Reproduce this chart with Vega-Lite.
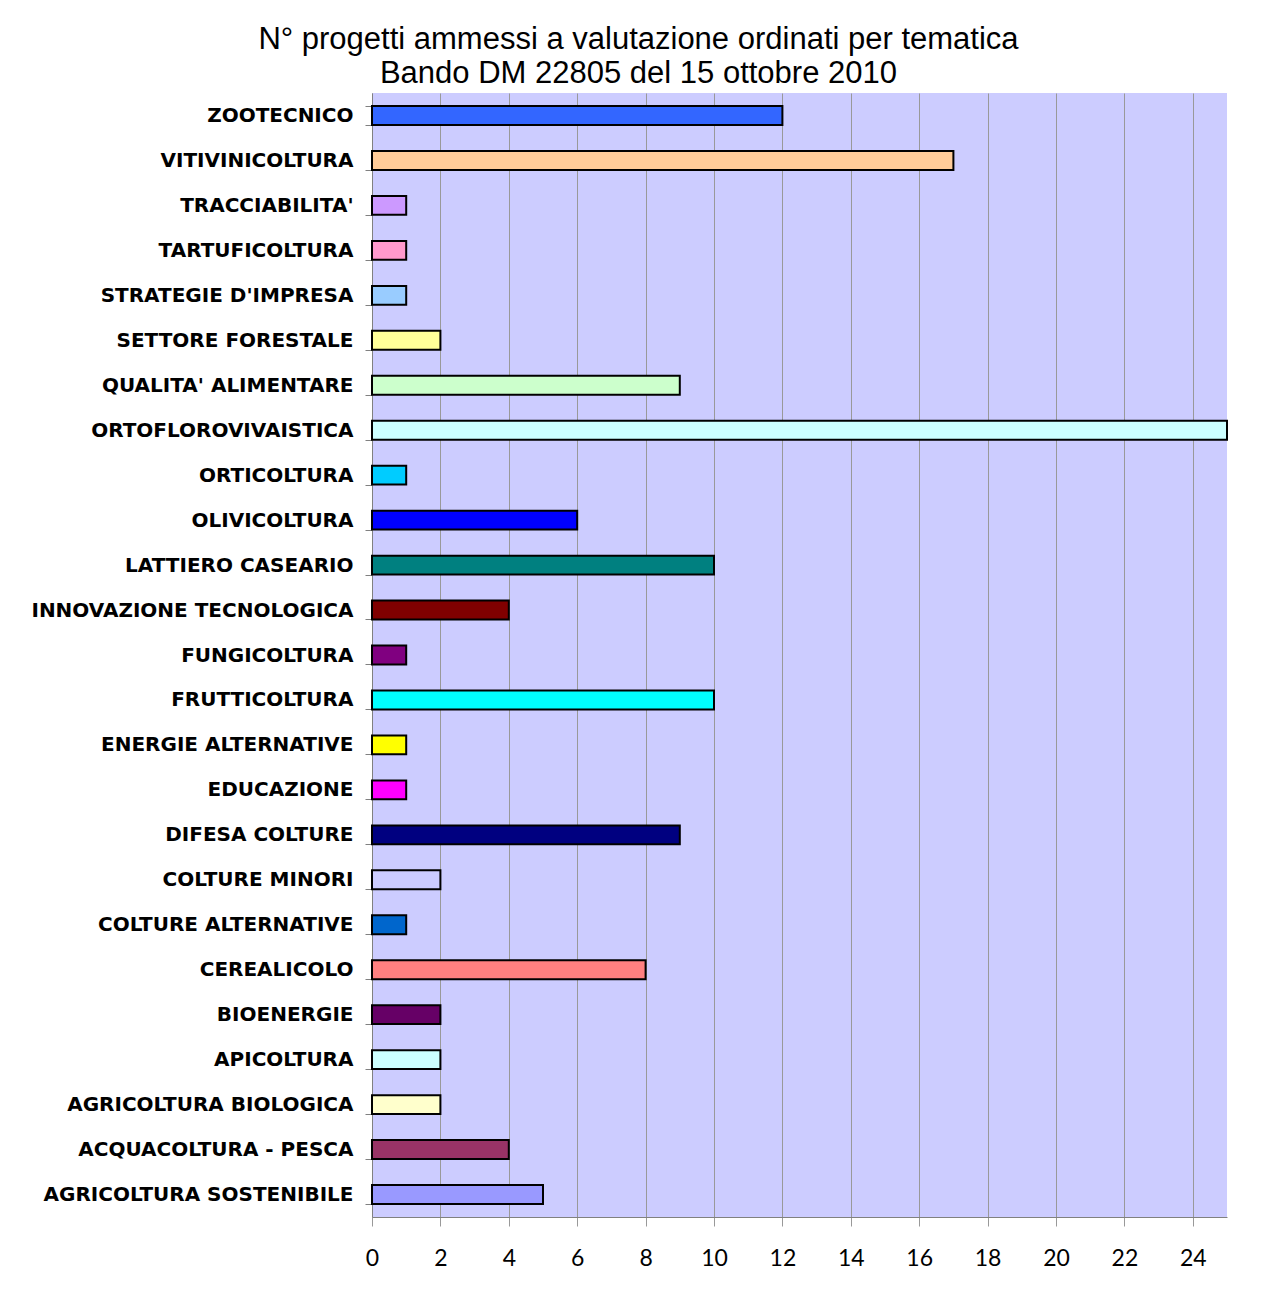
{
  "$schema": "https://vega.github.io/schema/vega-lite/v6.json",
  "autosize": {"type": "none"},
  "padding": {"left": 372, "top": 93, "right": 37, "bottom": 90},
  "width": 855,
  "height": 1124,
  "background": "white",
  "title": {
    "text": ["N° progetti ammessi a valutazione ordinati per tematica", "Bando DM 22805 del 15 ottobre 2010"],
    "font": "Liberation Sans",
    "fontSize": 31,
    "fontWeight": "normal",
    "color": "black",
    "lineHeight": 34,
    "anchor": "middle",
    "frame": "bounds",
    "offset": -7,
    "dx": 9
  },
  "data": {
    "values": [
      {"tema": "ZOOTECNICO", "n": 12},
      {"tema": "VITIVINICOLTURA", "n": 17},
      {"tema": "TRACCIABILITA'", "n": 1},
      {"tema": "TARTUFICOLTURA", "n": 1},
      {"tema": "STRATEGIE D'IMPRESA", "n": 1},
      {"tema": "SETTORE FORESTALE", "n": 2},
      {"tema": "QUALITA' ALIMENTARE", "n": 9},
      {"tema": "ORTOFLOROVIVAISTICA", "n": 25},
      {"tema": "ORTICOLTURA", "n": 1},
      {"tema": "OLIVICOLTURA", "n": 6},
      {"tema": "LATTIERO CASEARIO", "n": 10},
      {"tema": "INNOVAZIONE TECNOLOGICA", "n": 4},
      {"tema": "FUNGICOLTURA", "n": 1},
      {"tema": "FRUTTICOLTURA", "n": 10},
      {"tema": "ENERGIE ALTERNATIVE", "n": 1},
      {"tema": "EDUCAZIONE", "n": 1},
      {"tema": "DIFESA COLTURE", "n": 9},
      {"tema": "COLTURE MINORI", "n": 2},
      {"tema": "COLTURE ALTERNATIVE", "n": 1},
      {"tema": "CEREALICOLO", "n": 8},
      {"tema": "BIOENERGIE", "n": 2},
      {"tema": "APICOLTURA", "n": 2},
      {"tema": "AGRICOLTURA BIOLOGICA", "n": 2},
      {"tema": "ACQUACOLTURA - PESCA", "n": 4},
      {"tema": "AGRICOLTURA SOSTENIBILE", "n": 5}
    ]
  },
  "mark": {"type": "bar", "stroke": "black", "strokeWidth": 2, "opacity": 1, "fillOpacity": 1},
  "encoding": {
    "y": {
      "field": "tema",
      "type": "nominal",
      "sort": null,
      "scale": {"paddingInner": 0.58, "paddingOuter": 0.29},
      "axis": {
        "title": null,
        "tickBand": "extent",
        "tickSize": 7,
        "tickColor": "#808080",
        "domainColor": "#808080",
        "labelFont": "DejaVu Sans",
        "labelFontWeight": "bold",
        "labelFontSize": 20,
        "labelColor": "black",
        "labelPadding": 12,
        "labelLimit": 400,
        "grid": false
      }
    },
    "x": {
      "field": "n",
      "type": "quantitative",
      "scale": {"domain": [0, 25], "nice": false, "zero": true},
      "axis": {
        "title": null,
        "values": [0, 2, 4, 6, 8, 10, 12, 14, 16, 18, 20, 22, 24],
        "grid": true,
        "gridColor": "#999999",
        "gridOpacity": 1,
        "tickSize": 9,
        "tickColor": "#999999",
        "domainColor": "#808080",
        "labelFont": "Lato",
        "labelFontSize": 23,
        "labelColor": "black",
        "labelPadding": 21,
        "labelFlush": false
      }
    },
    "color": {
      "field": "tema",
      "type": "nominal",
      "legend": null,
      "scale": {
        "domain": ["ZOOTECNICO", "VITIVINICOLTURA", "TRACCIABILITA'", "TARTUFICOLTURA", "STRATEGIE D'IMPRESA", "SETTORE FORESTALE", "QUALITA' ALIMENTARE", "ORTOFLOROVIVAISTICA", "ORTICOLTURA", "OLIVICOLTURA", "LATTIERO CASEARIO", "INNOVAZIONE TECNOLOGICA", "FUNGICOLTURA", "FRUTTICOLTURA", "ENERGIE ALTERNATIVE", "EDUCAZIONE", "DIFESA COLTURE", "COLTURE MINORI", "COLTURE ALTERNATIVE", "CEREALICOLO", "BIOENERGIE", "APICOLTURA", "AGRICOLTURA BIOLOGICA", "ACQUACOLTURA - PESCA", "AGRICOLTURA SOSTENIBILE"],
        "range": ["#3366FF", "#FFCC99", "#CC99FF", "#FF99CC", "#99CCFF", "#FFFF99", "#CCFFCC", "#CCFFFF", "#00CCFF", "#0000FF", "#008080", "#800000", "#800080", "#00FFFF", "#FFFF00", "#FF00FF", "#000080", "#CCCCFF", "#0066CC", "#FF8080", "#660066", "#CCFFFF", "#FFFFCC", "#993366", "#9999FF"]
      }
    }
  },
  "config": {
    "view": {"fill": "#CCCCFF", "stroke": null}
  }
}
